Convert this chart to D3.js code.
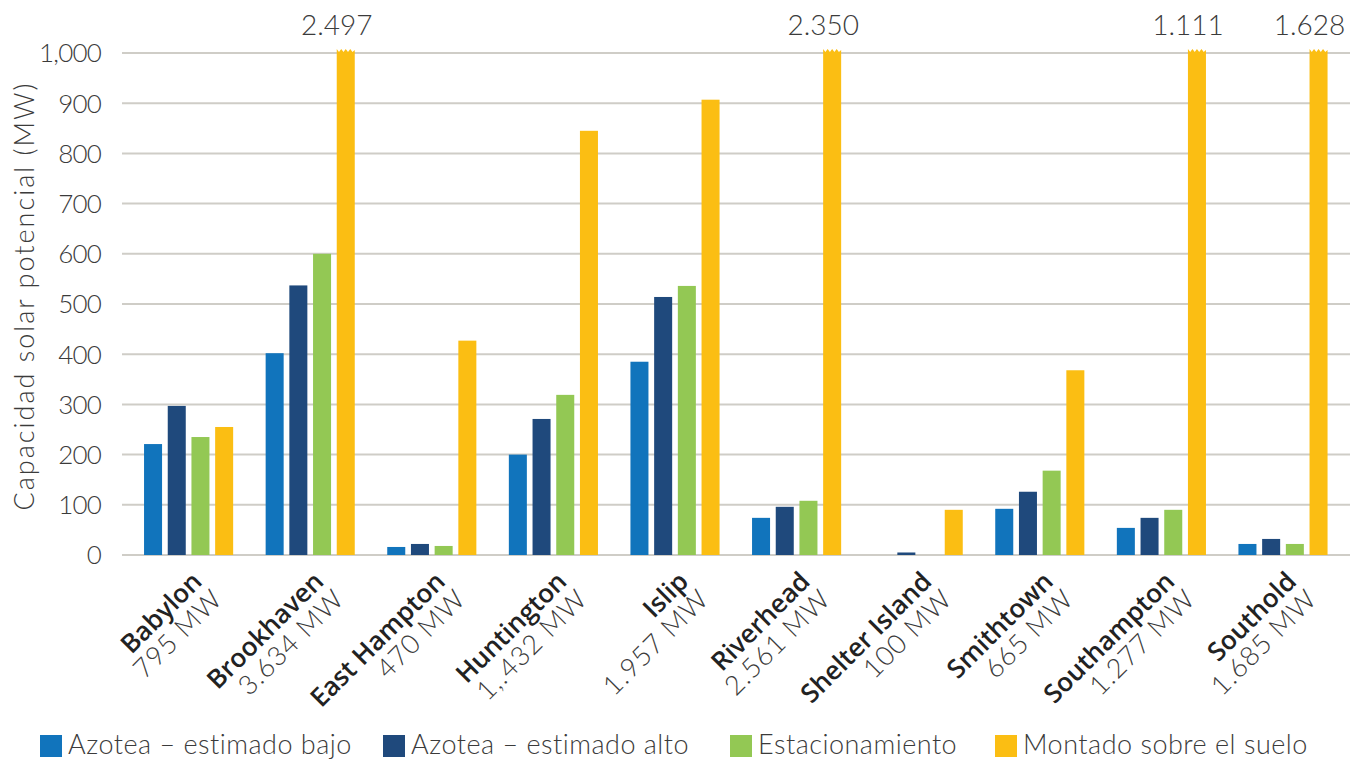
<!DOCTYPE html>
<html>
<head>
<meta charset="utf-8">
<script src="https://cdn.jsdelivr.net/npm/d3@7"></script>
<style>
  html, body { margin: 0; padding: 0; background: #fff; }
  svg { display: block; font-family: "Lato", "Open Sans", sans-serif; }
</style>
</head>
<body>
<svg id="chart" width="1350" height="759"></svg>
<script>
// data
var categories = ["Babylon", "Brookhaven", "East Hampton", "Huntington", "Islip", "Riverhead", "Shelter Island", "Smithtown", "Southampton", "Southold"];
var totals = ["795 MW", "3.634 MW", "470 MW", "1,.432 MW", "1.957 MW", "2.561 MW", "100 MW", "665 MW", "1.277 MW", "1.685 MW"];
var azoteaBajo = [221, 402, 16, 200, 385, 74, 0, 92, 54, 22];
var azoteaAlto = [297, 537, 22, 271, 514, 96, 5, 126, 74, 32];
var estacionamiento = [235, 600, 18, 319, 536, 108, 0, 168, 90, 22];
var suelo = [255, 2497, 427, 845, 907, 2350, 90, 368, 1111, 1628];
var seriesNames = ["Azotea \u2013 estimado bajo", "Azotea \u2013 estimado alto", "Estacionamiento", "Montado sobre el suelo"];
var colors = ["#1174bc", "#1f497c", "#93c854", "#fbbe13"];
var yTicks = [0, 100, 200, 300, 400, 500, 600, 700, 800, 900, 1000];
var yMax = 1000;

var svg = d3.select("#chart");
var textColor = "#3b3b3b";

var x0 = d3.scaleBand().domain(categories).range([127.7, 1343.7]);
var x1 = d3.scaleBand().domain(d3.range(4)).range([13.5, 108.3]).paddingInner(0.24).paddingOuter(0.12);
var y = d3.scaleLinear().domain([0, yMax]).range([555, 53]);

var esFormat = d3.formatLocale({decimal: ",", thousands: ".", grouping: [3], currency: ["", ""]}).format(",");
var tickFormat = d3.format(",");

// gridlines
svg.append("g").selectAll("line")
  .data(yTicks)
  .enter().append("line")
  .attr("x1", 122).attr("x2", 1350)
  .attr("y1", function(d){ return y(d); })
  .attr("y2", function(d){ return y(d); })
  .attr("stroke", "#cfcdc7")
  .attr("stroke-width", 2);

// y tick labels
svg.append("g").selectAll("text")
  .data(yTicks)
  .enter().append("text")
  .attr("x", 101)
  .attr("y", function(d){ return y(d); })
  .attr("dy", "0.36em")
  .attr("text-anchor", "end")
  .attr("font-size", 26)
  .attr("font-weight", 300)
  .attr("fill", textColor)
  .attr("letter-spacing", -0.8)
  .text(function(d){ return tickFormat(d); });

// y axis title
svg.append("text")
  .attr("transform", "translate(34,296) rotate(-90)")
  .attr("text-anchor", "middle")
  .attr("font-size", 27)
  .attr("font-weight", 300)
  .attr("letter-spacing", 2)
  .attr("fill", textColor)
  .text("Capacidad solar potencial (MW)");

var allSeries = [azoteaBajo, azoteaAlto, estacionamiento, suelo];

var groups = svg.append("g").selectAll("g")
  .data(categories)
  .enter().append("g")
  .attr("transform", function(d){ return "translate(" + x0(d) + ",0)"; });

groups.each(function(cat, ci){
  var g = d3.select(this);
  allSeries.forEach(function(vals, si){
    var v = vals[ci];
    if (v <= 0) return;
    var bx = x1(si), bw = x1.bandwidth();
    if (v <= yMax) {
      g.append("rect")
        .attr("x", bx)
        .attr("y", y(v))
        .attr("width", bw)
        .attr("height", y(0) - y(v))
        .attr("fill", colors[si]);
    } else {
      // broken bar with zigzag top
      var top = y(yMax) - 4;
      var n = 4, step = bw / n;
      var p = d3.path();
      p.moveTo(bx, y(0));
      p.lineTo(bx, top);
      for (var k = 0; k < n; k++) {
        p.lineTo(bx + step * k + step / 2, top + 3);
        p.lineTo(bx + step * (k + 1), top + (k == n - 1 ? 1 : 0));
      }
      p.lineTo(bx + bw, y(0));
      p.closePath();
      g.append("path")
        .attr("d", p.toString())
        .attr("fill", colors[si]);
      g.append("text")
        .attr("x", bx + bw / 2 - 9)
        .attr("y", 35)
        .attr("text-anchor", "middle")
        .attr("font-size", 28)
        .attr("font-weight", 300)
        .attr("fill", textColor)
        .text(esFormat(v));
    }
  });

  // rotated category labels
  var lbl = g.append("g")
    .attr("transform", "translate(" + (x0.bandwidth() / 2 + 15) + ",583) rotate(-45)");
  lbl.append("text")
    .attr("text-anchor", "end")
    .attr("font-family", "Open Sans, Lato, sans-serif")
    .attr("font-size", 26)
    .attr("font-weight", 600)
    .attr("fill", "#222")
    .text(cat);
  lbl.append("text")
    .attr("text-anchor", "end")
    .attr("x", 2)
    .attr("y", 27)
    .attr("font-size", 27)
    .attr("font-weight", 300)
    .attr("letter-spacing", 1)
    .attr("fill", textColor)
    .text(totals[ci]);
});

// legend
var legendX = [40, 383, 730, 995];
var legend = svg.append("g").selectAll("g")
  .data(seriesNames)
  .enter().append("g")
  .attr("transform", function(d, i){ return "translate(" + legendX[i] + ",735)"; });
legend.append("rect")
  .attr("width", 22).attr("height", 22)
  .attr("fill", function(d, i){ return colors[i]; });
legend.append("text")
  .attr("x", 28)
  .attr("y", 19)
  .attr("font-size", 27)
  .attr("font-weight", 300)
  .attr("letter-spacing", 0.5)
  .attr("fill", textColor)
  .text(function(d){ return d; });
</script>
</body>
</html>
